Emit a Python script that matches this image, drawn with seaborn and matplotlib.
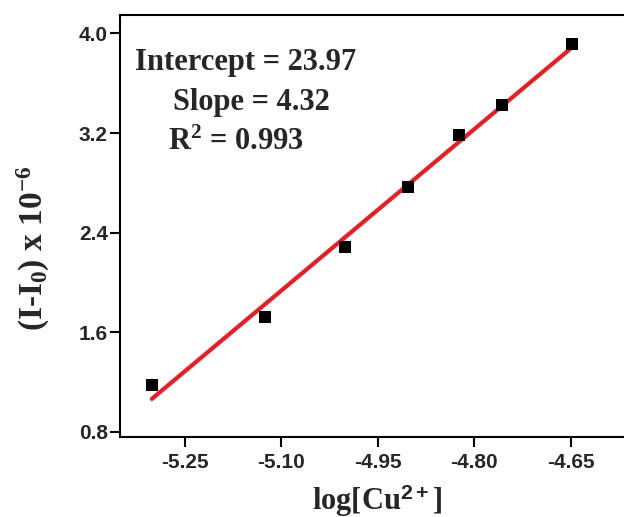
import numpy as np
import pandas as pd
import matplotlib
matplotlib.use('Agg')
import matplotlib.pyplot as plt
import seaborn as sns

# log[Cu2+] vs (I-I0) x 10^-6 calibration points
log_cu = [-5.301, -5.125, -5.001, -4.903, -4.824, -4.757, -4.648]
delta_i = [1.172, 1.723, 2.282, 2.766, 3.181, 3.422, 3.917]

x_ticks = [-5.25, -5.10, -4.95, -4.80, -4.65]
y_ticks = [0.8, 1.6, 2.4, 3.2, 4.0]

fit_lines = ['Intercept = 23.97', 'Slope = 4.32', 'R$^2$ = 0.993']

df = pd.DataFrame({'log_cu': log_cu, 'delta_i': delta_i})

sns.set_style('ticks')
plt.rcParams['font.family'] = ['Liberation Serif', 'DejaVu Serif']
plt.rcParams['mathtext.fontset'] = 'custom'
plt.rcParams['mathtext.rm'] = 'Liberation Serif:bold'
plt.rcParams['mathtext.bf'] = 'Liberation Serif:bold'
plt.rcParams['mathtext.it'] = 'Liberation Serif:bold'
plt.rcParams['mathtext.sf'] = 'Liberation Sans:bold'

fig = plt.figure(figsize=(6.24, 5.17), dpi=100)
ax = fig.add_axes([0.1928, 0.1553, 0.8248, 0.8166])

sns.regplot(data=df, x='log_cu', y='delta_i', scatter=False, ci=None, truncate=True,
            line_kws=dict(color='#ec1c24', lw=3), ax=ax)
sns.scatterplot(data=df, x='log_cu', y='delta_i', marker='s', color='black',
                s=75, linewidth=0, ax=ax, zorder=3)

ax.set_xlim(-5.35, -4.55)
ax.set_ylim(0.76, 4.152)
ax.set_xticks(x_ticks)
ax.set_yticks(y_ticks)
ax.set_xticklabels([f'{t:.2f}' for t in x_ticks])
ax.set_yticklabels([f'{t:.1f}' for t in y_ticks])

for lab in ax.get_xticklabels() + ax.get_yticklabels():
    lab.set_family('Liberation Sans')
    lab.set_fontweight('bold')
    lab.set_fontsize(15)

ax.tick_params(axis='both', length=7, width=1.5, color='black')
ax.tick_params(axis='x', pad=5)
ax.tick_params(axis='y', pad=2)
for sp in ax.spines.values():
    sp.set_linewidth(1.5)
    sp.set_color('black')

ax.set_xlabel(r'log[Cu$^{\mathsf{2+}}$]', fontsize=22, fontweight='bold', labelpad=7)
ax.set_ylabel(r'(I-I$_0$) x 10$^{-6}$', fontsize=24, fontweight='bold')
ax.yaxis.set_label_coords(-0.133, 0.447)

ax.text(0.0286, 0.868, fit_lines[0], transform=ax.transAxes, fontsize=22,
        fontweight='bold', va='baseline', ha='left')
ax.text(0.1018, 0.774, fit_lines[1], transform=ax.transAxes, fontsize=22,
        fontweight='bold', va='baseline', ha='left')
ax.text(0.0927, 0.679, fit_lines[2], transform=ax.transAxes, fontsize=22,
        fontweight='bold', va='baseline', ha='left')

fig.savefig('out.png', dpi=100)
